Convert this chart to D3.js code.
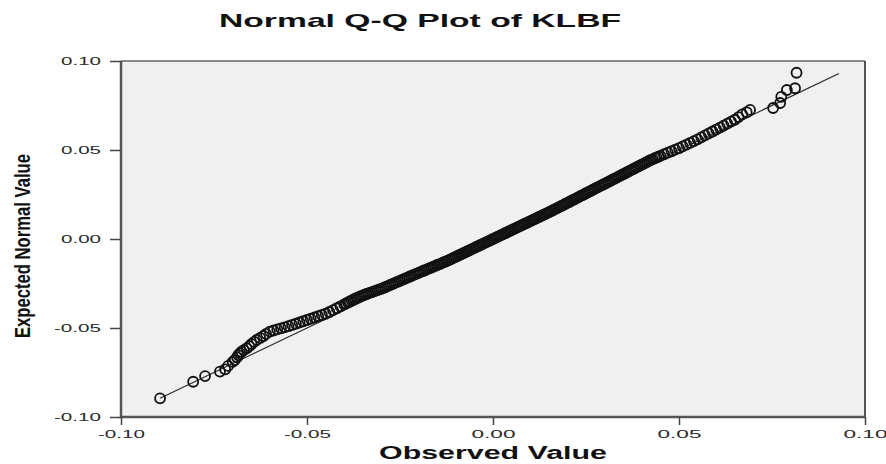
<!DOCTYPE html>
<html><head><meta charset="utf-8">
<script src="https://cdn.jsdelivr.net/npm/d3@7"></script>
<style>html,body{margin:0;padding:0;background:#fff;}svg{display:block;}</style>
</head><body>
<svg id="c" width="886" height="464"></svg>
<script>
const title = "Normal Q-Q Plot of KLBF";
const xTitle = "Observed Value";
const yTitle = "Expected Normal Value";
const xTicks = [-0.10, -0.05, 0.00, 0.05, 0.10];
const yTicks = [-0.10, -0.05, 0.00, 0.05, 0.10];
const tickLabels = ["-0.10", "-0.05", "0.00", "0.05", "0.10"];
const refLine = [-0.0895, 0.0930];

const observed = [
-0.0895,-0.0806,-0.0774,-0.0734,-0.0720,-0.0712,-0.0700,-0.0694,-0.0688,-0.0685,-0.0680,-0.0676,-0.0670,-0.0662,-0.0655,-0.0649,-0.0642,-0.0635,-0.0626,-0.0617,-0.0610,
-0.060,-0.059,-0.058,-0.057,-0.056,-0.055,-0.054,-0.053,-0.052,-0.051,-0.050,-0.049,-0.048,-0.047,-0.046,-0.045,-0.044,-0.043,-0.042,-0.041,-0.040,
-0.0395,-0.0390,-0.0385,-0.0380,-0.0375,-0.0370,-0.0365,-0.0360,-0.0355,-0.0350,-0.0345,-0.0340,-0.0335,-0.0330,-0.0325,-0.0320,-0.0315,-0.0310,-0.0305,-0.0300,
-0.0295,-0.0290,-0.0285,-0.0280,-0.0275,-0.0270,-0.0265,-0.0260,-0.0255,-0.0250,-0.0245,-0.0240,-0.0235,-0.0230,-0.0225,-0.0220,-0.0215,-0.0210,-0.0205,-0.0200,
-0.0195,-0.0190,-0.0185,-0.0180,-0.0175,-0.0170,-0.0165,-0.0160,-0.0155,-0.0150,-0.0145,-0.0140,-0.0135,-0.0130,-0.0125,-0.0120,-0.0115,-0.0110,-0.0105,-0.0100,
-0.0095,-0.0090,-0.0085,-0.0080,-0.0075,-0.0070,-0.0065,-0.0060,-0.0055,-0.0050,-0.0045,-0.0040,-0.0035,-0.0030,-0.0025,-0.0020,-0.0015,-0.0010,-0.0005,0.0000,
0.0005,0.0010,0.0015,0.0020,0.0025,0.0030,0.0035,0.0040,0.0045,0.0050,0.0055,0.0060,0.0065,0.0070,0.0075,0.0080,0.0085,0.0090,0.0095,0.0100,
0.0105,0.0110,0.0115,0.0120,0.0125,0.0130,0.0135,0.0140,0.0145,0.0150,0.0155,0.0160,0.0165,0.0170,0.0175,0.0180,0.0185,0.0190,0.0195,0.0200,
0.0205,0.0210,0.0215,0.0220,0.0225,0.0230,0.0235,0.0240,0.0245,0.0250,0.0255,0.0260,0.0265,0.0270,0.0275,0.0280,0.0285,0.0290,0.0295,0.0300,
0.0305,0.0310,0.0315,0.0320,0.0325,0.0330,0.0335,0.0340,0.0345,0.0350,0.0355,0.0360,0.0365,0.0370,0.0375,0.0380,0.0385,0.0390,0.0395,0.0400,
0.0405,0.0410,0.0415,0.0420,0.0425,0.0430,0.0435,0.0440,0.0445,0.0450,
0.046,0.047,0.048,0.049,0.050,0.051,0.052,0.053,0.054,0.055,0.056,0.057,0.058,0.059,0.060,0.061,0.062,0.063,0.064,0.065,0.066,0.067,
0.0682,0.0691,0.0753,0.0772,0.0775,0.0790,0.0812,0.0816
];

const expected = [
-0.0895,-0.0802,-0.0770,-0.0745,-0.0732,-0.0713,-0.0690,-0.0680,-0.0665,-0.0652,-0.0642,-0.0633,-0.0624,-0.0614,-0.0602,-0.0590,-0.0578,-0.0567,-0.0556,-0.0545,-0.0533,
-0.0520,-0.0514,-0.0508,-0.0502,-0.0496,-0.0490,-0.0483,-0.0476,-0.0469,-0.0462,-0.0455,-0.0448,-0.0441,-0.0434,-0.0427,-0.0420,-0.0410,-0.0400,-0.0389,-0.0378,-0.0367,
-0.0362,-0.0356,-0.0351,-0.0346,-0.0340,-0.0335,-0.0330,-0.0325,-0.0321,-0.0317,-0.0313,-0.0309,-0.0305,-0.0301,-0.0298,-0.0294,-0.0290,-0.0287,-0.0283,-0.0280,
-0.0275,-0.0271,-0.0266,-0.0262,-0.0257,-0.0253,-0.0248,-0.0244,-0.0239,-0.0235,-0.0230,-0.0226,-0.0221,-0.0217,-0.0212,-0.0208,-0.0203,-0.0199,-0.0194,-0.0190,
-0.0186,-0.0181,-0.0177,-0.0173,-0.0168,-0.0164,-0.0160,-0.0155,-0.0151,-0.0146,-0.0142,-0.0138,-0.0133,-0.0129,-0.0124,-0.0120,-0.0115,-0.0110,-0.0105,-0.0100,
-0.0095,-0.0090,-0.0085,-0.0080,-0.0075,-0.0070,-0.0065,-0.0060,-0.0055,-0.0050,-0.0045,-0.0040,-0.0035,-0.0030,-0.0025,-0.0020,-0.0015,-0.0010,-0.0005,0.0000,
0.0005,0.0010,0.0015,0.0020,0.0025,0.0030,0.0035,0.0040,0.0045,0.0050,0.0055,0.0060,0.0065,0.0070,0.0075,0.0080,0.0085,0.0090,0.0095,0.0100,
0.0105,0.0110,0.0115,0.0120,0.0125,0.0130,0.0135,0.0140,0.0145,0.0150,0.0155,0.0160,0.0166,0.0171,0.0176,0.0182,0.0187,0.0192,0.0198,0.0203,
0.0208,0.0214,0.0219,0.0224,0.0230,0.0235,0.0241,0.0246,0.0251,0.0257,0.0262,0.0267,0.0273,0.0278,0.0284,0.0289,0.0294,0.0300,0.0305,0.0310,
0.0315,0.0321,0.0326,0.0332,0.0337,0.0342,0.0348,0.0353,0.0359,0.0364,0.0369,0.0375,0.0380,0.0386,0.0391,0.0396,0.0402,0.0407,0.0413,0.0418,
0.0423,0.0429,0.0434,0.0440,0.0445,0.0449,0.0454,0.0458,0.0463,0.0467,
0.0476,0.0485,0.0493,0.0502,0.0510,0.0520,0.0530,0.0540,0.0550,0.0560,0.0571,0.0582,0.0593,0.0604,0.0615,0.0626,0.0637,0.0648,0.0659,0.0670,0.0685,0.0700,
0.0712,0.0725,0.0736,0.0764,0.0799,0.0837,0.0847,0.0934
];

const svg = d3.select("#c");
const L = 121, R = 865, T = 61, B = 417;
const x = d3.scaleLinear().domain([-0.10, 0.10]).range([L, R]);
const y = d3.scaleLinear().domain([-0.10, 0.10]).range([B, T]);

// plot background
svg.append("rect").attr("x", L).attr("y", T).attr("width", R - L).attr("height", B - T)
  .attr("fill", "#f0f0f0");

// title
svg.append("text").attr("x", 219).attr("y", 27)
  .attr("font-family", "Liberation Sans, Arial, sans-serif").attr("font-weight", "bold")
  .attr("font-size", 19).attr("fill", "#111")
  .attr("textLength", 402).attr("lengthAdjust", "spacingAndGlyphs")
  .text(title);

// reference line
svg.append("line")
  .attr("x1", x(refLine[0])).attr("y1", y(refLine[0]))
  .attr("x2", x(refLine[1])).attr("y2", y(refLine[1]))
  .attr("stroke", "#2a2a2a").attr("stroke-width", 1.2);

// points
const pts = observed.map((v, i) => [v, expected[i]]);
svg.append("g").selectAll("circle").data(pts).join("circle")
  .attr("cx", d => x(d[0])).attr("cy", d => y(d[1])).attr("r", 5)
  .attr("fill", "none").attr("stroke", "#111").attr("stroke-width", 1.8);

// frame: top & right
svg.append("line").attr("x1", L).attr("x2", R).attr("y1", T).attr("y2", T)
  .attr("stroke", "#666").attr("stroke-width", 1.5);
svg.append("line").attr("x1", R).attr("x2", R).attr("y1", T).attr("y2", B)
  .attr("stroke", "#555").attr("stroke-width", 2);

// axes
const xAxis = d3.axisBottom(x).tickValues(xTicks).tickSize(8).tickFormat((d, i) => tickLabels[i]);
const yAxis = d3.axisLeft(y).tickValues(yTicks).tickSize(11).tickFormat((d, i) => tickLabels[i]);

const gx = svg.append("g").attr("transform", `translate(0,${B})`).call(xAxis);
const gy = svg.append("g").attr("transform", `translate(${L},0)`).call(yAxis);
[gx, gy].forEach(g => {
  g.select(".domain").attr("stroke", "#555").attr("stroke-width", 2.5);
  g.selectAll(".tick line").attr("stroke", "#444").attr("stroke-width", 1.5);
  g.selectAll(".tick text").attr("fill", "#2a2a2a")
    .attr("font-family", "Liberation Sans, Arial, sans-serif").attr("font-size", 11.5);
});
gx.select(".domain").attr("d", `M${L},0H${R}`);
gy.select(".domain").attr("d", `M0,${B}V${T}`);
gx.selectAll(".tick text").attr("y", 13).attr("dy", "0.71em")
  .attr("textLength", (d, i) => tickLabels[i].startsWith("-") ? 47 : 44)
  .attr("lengthAdjust", "spacingAndGlyphs");
gy.selectAll(".tick text")
  .attr("text-anchor", "start")
  .attr("x", (d, i) => -20 - (tickLabels[i].startsWith("-") ? 47 : 40))
  .attr("textLength", (d, i) => tickLabels[i].startsWith("-") ? 47 : 40)
  .attr("lengthAdjust", "spacingAndGlyphs");

// axis titles
svg.append("text").attr("x", 379).attr("y", 459)
  .attr("font-family", "Liberation Sans, Arial, sans-serif").attr("font-weight", "bold")
  .attr("font-size", 18).attr("fill", "#111")
  .attr("textLength", 228).attr("lengthAdjust", "spacingAndGlyphs")
  .text(xTitle);

svg.append("text").attr("transform", "translate(30,338) rotate(-90)")
  .attr("font-family", "Liberation Sans Narrow, Arial Narrow, Liberation Sans, sans-serif")
  .attr("font-weight", "bold").attr("font-size", 22).attr("fill", "#111")
  .attr("textLength", 184).attr("lengthAdjust", "spacingAndGlyphs")
  .text(yTitle);
</script>
</body></html>
